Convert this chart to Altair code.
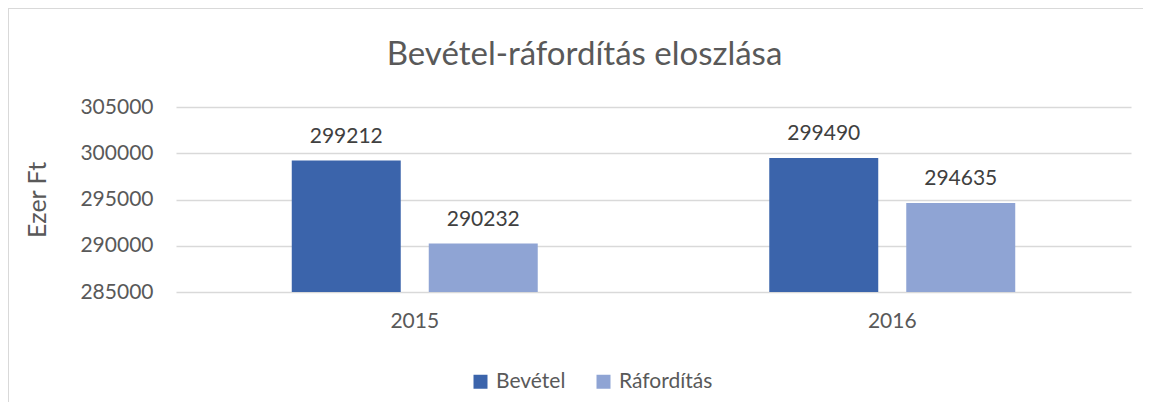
import altair as alt
import pandas as pd

years = ["2015", "2015", "2016", "2016"]
series = ["Bevétel", "Ráfordítás", "Bevétel", "Ráfordítás"]
values = [299212, 290232, 299490, 294635]
series_order = ["Bevétel", "Ráfordítás"]
colors = ["#3B64AB", "#8FA4D4"]
y_ticks = [285000, 290000, 295000, 300000, 305000]
Y_MIN = 285000
Y_MAX = 305000

df = pd.DataFrame({"ev": years, "sor": series, "ertek": values})

FONT = "Lato"
TXT = "#595959"
FS = 21

base = alt.Chart(df).encode(
    x=alt.X("ev:N", title=None,
            scale=alt.Scale(paddingInner=0, paddingOuter=0),
            axis=alt.Axis(labelAngle=0, domain=False, ticks=False, labelPadding=18,
                          labelFontSize=FS, labelColor=TXT, labelFont=FONT)),
    xOffset=alt.XOffset("sor:N", sort=series_order,
                        scale=alt.Scale(paddingInner=0.2044, paddingOuter=0.845)),
    y=alt.Y("ertek:Q", title="Ezer Ft",
            scale=alt.Scale(domain=[Y_MIN, Y_MAX], zero=False, nice=False),
            axis=alt.Axis(values=y_ticks, format="d", domain=False, ticks=False,
                          labelPadding=23, labelFontSize=FS, labelColor=TXT, labelFont=FONT,
                          titleFontSize=25, titleFontWeight="normal", titleColor=TXT,
                          titleFont=FONT, titlePadding=29,
                          gridColor="#D9D9D9", gridWidth=1.5)),
)

bars = base.mark_bar().encode(
    y2=alt.datum(Y_MIN),
    color=alt.Color("sor:N", sort=series_order,
                    scale=alt.Scale(domain=series_order, range=colors),
                    legend=alt.Legend(title=None, orient="none", direction="horizontal",
                                      legendX=294, legendY=264,
                                      symbolType="square", symbolSize=196,
                                      symbolStrokeWidth=0,
                                      labelFontSize=FS, labelColor=TXT, labelFont=FONT,
                                      labelOffset=5, columnPadding=27)),
)

labels = base.mark_text(baseline="alphabetic", dy=-18, fontSize=FS,
                        font=FONT, color="#404040").encode(
    text=alt.Text("ertek:Q", format="d"),
)

border = alt.Chart(pd.DataFrame({"b": [0]})).mark_rect(
    fill=None, stroke="#D9D9D9", strokeWidth=2, clip=False
).encode(
    x=alt.value(-168), x2=alt.value(1000), y=alt.value(-99), y2=alt.value(320)
)

chart = alt.layer(border, bars, labels).properties(
    width=955, height=185,
    autosize=alt.AutoSizeParams(type="none"),
    padding={"left": 168, "top": 99, "right": 12, "bottom": 110},
    title=alt.TitleParams("Bevétel-ráfordítás eloszlása", fontSize=33,
                          fontWeight="normal", color=TXT, font=FONT,
                          anchor="middle", dx=-69, offset=-65),
).configure_view(stroke=None)

chart.save("out.html", embed_options={"renderer": "svg", "actions": False})
